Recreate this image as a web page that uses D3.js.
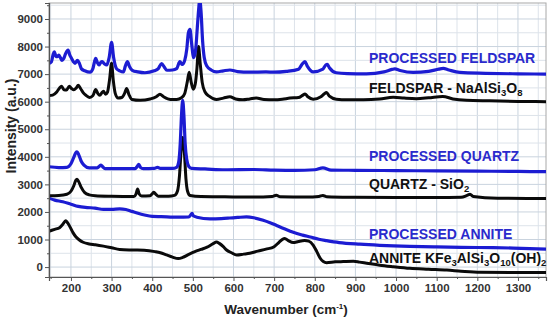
<!DOCTYPE html>
<html><head><meta charset="utf-8">
<script src="https://cdn.jsdelivr.net/npm/d3@7/dist/d3.min.js"></script>
<style>
body{margin:0;background:#fff}
text{font-family:"Liberation Sans",Arial,sans-serif;font-weight:bold}
</style>
</head><body>
<svg id="c" width="550" height="321"></svg>
<script>
// ---- tick labels ----
const xTicks = [200,300,400,500,600,700,800,900,1000,1100,1200,1300];
const yTicks = [0,1000,2000,3000,4000,5000,6000,7000,8000,9000];

// ---- FELDSPAR (black) ----
const feldsparWn = [146,155,165,172,177,183,189,196,202,207,213,218,224,230,238,246,254,261,266,271,276,280,285,290,295,300,304,309,316,325,332,337,343,350,370,395,410,419,428,445,460,472,480,486,491,496,501,506,510,514,518,523,530,540,558,575,591,605,623,640,656,675,700,720,739,760,770,776,783,796,815,823,829,836,853,880,920,960,993,1020,1050,1080,1115,1140,1173,1230,1300,1369];
const feldsparInt = [6220,6240,6350,6500,6560,6430,6420,6560,6470,6430,6500,6600,6470,6330,6220,6150,6220,6440,6300,6230,6320,6380,6270,6350,6800,7390,6800,6300,6130,6150,6300,6480,6250,6080,6050,6100,6180,6270,6180,6080,6080,6140,6300,6700,7070,6700,6450,6650,7200,8000,7400,6700,6350,6200,6080,6130,6180,6100,6070,6100,6130,6080,6070,6090,6130,6150,6230,6280,6180,6090,6180,6280,6330,6200,6090,6070,6070,6100,6160,6130,6110,6140,6190,6100,6050,6030,6010,6000];

// ---- PROCESSED FELDSPAR (blue) ----
const pFeldsparWn = [146,152,156,159,163,166,170,174,178,182,187,193,197,202,206,210,216,221,226,234,247,254,258,261,265,269,273,277,282,288,294,300,305,312,320,329,334,339,344,351,365,382,405,415,423,430,436,450,460,468,474,480,485,489,493,497,502,507,511,514,517,520,524,528,534,545,558,575,591,610,640,680,700,730,760,770,776,782,796,820,827,831,836,853,880,927,970,990,997,1010,1042,1080,1105,1116,1130,1157,1220,1300,1369];
const pFeldsparInt = [7390,7450,7700,7810,7650,7630,7690,7600,7500,7560,7750,7870,7700,7560,7450,7390,7500,7380,7190,7120,7070,7200,7450,7570,7420,7330,7420,7450,7380,7330,7600,8150,7600,7200,7120,7080,7300,7450,7280,7140,7080,7050,7120,7200,7380,7250,7140,7150,7200,7450,7350,7500,7900,8500,8620,8100,7600,7900,8700,9300,9700,9300,8200,7600,7300,7150,7080,7120,7150,7090,7070,7080,7070,7100,7180,7380,7450,7280,7080,7180,7330,7350,7230,7050,7020,7010,7080,7170,7190,7130,7060,7100,7180,7210,7150,7060,7030,7010,7000];

// ---- QUARTZ (black) ----
const quartzWn = [146,170,190,200,207,212,215,219,225,234,245,260,300,355,360,364,368,374,395,400,404,409,415,440,455,462,467,471,475,479,483,487,493,520,579,650,695,705,715,780,810,820,830,900,1000,1100,1160,1175,1182,1190,1250,1369];
const quartzInt = [2590,2600,2640,2750,2950,3150,3190,3100,2900,2700,2620,2590,2570,2560,2650,2830,2650,2580,2590,2660,2710,2640,2570,2570,2600,2750,3300,4200,4700,4200,3200,2750,2600,2560,2550,2540,2560,2610,2550,2540,2560,2600,2550,2530,2520,2520,2530,2600,2640,2560,2500,2490];

// ---- PROCESSED QUARTZ (blue) ----
const pQuartzWn = [146,170,190,200,207,212,215,219,225,232,245,265,270,274,278,284,330,358,363,367,371,378,405,413,420,450,460,465,469,472,475,478,481,485,490,497,530,579,650,700,750,800,820,840,900,1000,1100,1200,1300,1369];
const pQuartzInt = [3640,3610,3620,3750,3980,4150,4180,4080,3850,3700,3600,3600,3660,3700,3640,3570,3570,3570,3650,3730,3620,3570,3580,3620,3580,3580,3620,3800,4500,5500,6050,5500,4500,3900,3650,3580,3560,3530,3540,3520,3510,3530,3600,3520,3510,3500,3490,3480,3470,3460];

// ---- ANNITE (black) ----
const anniteWn = [146,160,172,180,187,192,198,205,212,220,230,245,260,280,300,320,350,380,407,420,435,450,464,475,490,505,520,535,550,558,565,575,583,595,608,625,640,660,680,700,712,720,726,735,747,760,775,785,796,805,813,821,829,850,870,895,910,928,960,993,1034,1080,1125,1160,1207,1280,1369];
const anniteInt = [1300,1370,1430,1550,1680,1600,1450,1250,1100,990,900,840,810,760,700,640,620,610,560,520,440,360,310,350,460,560,640,720,850,910,860,740,620,520,440,470,500,580,650,740,900,1000,1040,960,890,930,960,940,800,560,330,200,160,190,200,210,180,140,70,15,-45,-80,-110,-150,-190,-200,-200];

// ---- PROCESSED ANNITE (blue) ----
const pAnniteWn = [146,160,180,200,218,240,259,280,300,320,335,350,365,381,400,422,463,490,495,498,501,510,542,570,591,610,632,650,673,690,706,725,747,770,789,810,829,860,911,960,1034,1100,1200,1288,1369];
const pAnniteInt = [2500,2430,2370,2280,2200,2160,2140,2090,2090,2110,2090,2020,1950,1890,1840,1830,1810,1820,1900,1950,1860,1810,1750,1760,1780,1800,1820,1790,1700,1610,1510,1390,1260,1160,1090,1010,960,890,830,790,750,730,710,690,650];

// ---- labels ----
const labelTexts = [
  {parts:[["PROCESSED FELDSPAR",0]], v:7390, c:"blue"},
  {parts:[["FELDSPAR - NaAlSi",0],["3",1],["O",0],["8",1]], v:6300, c:"black"},
  {parts:[["PROCESSED QUARTZ",0]], v:3860, c:"blue"},
  {parts:[["QUARTZ - SiO",0],["2",1]], v:2830, c:"black"},
  {parts:[["PROCESSED ANNITE",0]], v:1015, c:"blue"},
  {parts:[["ANNITE KFe",0],["3",1],["AlSi",0],["3",1],["O",0],["10",1],["(OH)",0],["2",1]], v:135, c:"black"}
];

const BLUE = "#1c1cd2", BLACK = "#0a0a0a", TBLUE = "#2a2acc";
const series = [
  {wn:feldsparWn, v:feldsparInt, c:BLACK},
  {wn:quartzWn, v:quartzInt, c:BLACK},
  {wn:anniteWn, v:anniteInt, c:BLACK},
  {wn:pFeldsparWn, v:pFeldsparInt, c:BLUE},
  {wn:pQuartzWn, v:pQuartzInt, c:BLUE},
  {wn:pAnniteWn, v:pAnniteInt, c:BLUE}
];

const svg = d3.select("#c");
svg.append("rect").attr("width",550).attr("height",321).attr("fill","#fff");
const L=49,R=546,T=3,B=277;
const x = d3.scaleLinear().domain([146,1369]).range([L,R]);
const y = d3.scaleLinear().domain([-360,9580]).range([B,T]);

svg.append("defs").append("clipPath").attr("id","clip")
  .append("rect").attr("x",L).attr("y",T).attr("width",R-L).attr("height",B-T);

// grid
const g = svg.append("g");
g.selectAll("line.vx").data(d3.range(150,1369,50)).join("line")
  .attr("x1",d=>x(d)).attr("x2",d=>x(d)).attr("y1",T).attr("y2",B)
  .attr("stroke",d=>d%100===0?"#c9d3de":"#dde3ea").attr("stroke-width",1);
g.selectAll("line.hy").data(d3.range(0,9580,500)).join("line")
  .attr("y1",d=>y(d)).attr("y2",d=>y(d)).attr("x1",L).attr("x2",R)
  .attr("stroke",d=>d%1000===0?"#c9d3de":"#dde3ea").attr("stroke-width",1);

// frame
svg.append("rect").attr("x",L).attr("y",T).attr("width",R-L).attr("height",B-T)
  .attr("fill","none").attr("stroke","#a8a8a8").attr("stroke-width",1);

// series
const line = d3.line().x(d=>x(d[0])).y(d=>y(d[1])).curve(d3.curveMonotoneX);
const sg = svg.append("g").attr("clip-path","url(#clip)");
series.forEach(s=>{
  const pts = s.wn.map((w,i)=>[w,s.v[i]]);
  sg.append("path").attr("d",line(pts)).attr("fill","none")
    .attr("stroke",s.c).attr("stroke-width",s.c===BLUE?3.2:3).attr("stroke-linejoin","round");
});

// axes
const xAxis = svg.append("g").attr("transform",`translate(0,${B})`)
  .call(d3.axisBottom(x).tickValues(xTicks).tickSize(4).tickPadding(3).tickFormat(d3.format("d")));
svg.append("g").attr("transform",`translate(0,${B})`)
  .call(d3.axisBottom(x).tickValues(d3.range(150,1369,100)).tickSize(2).tickFormat(""))
  .call(a=>a.select(".domain").remove());
const yAxis = svg.append("g").attr("transform",`translate(${L},0)`)
  .call(d3.axisLeft(y).tickValues(yTicks).tickSize(4).tickPadding(2).tickFormat(d3.format("d")));
svg.append("g").attr("transform",`translate(${L},0)`)
  .call(d3.axisLeft(y).tickValues(d3.range(500,9580,1000)).tickSize(2).tickFormat(""))
  .call(a=>a.select(".domain").remove());
svg.selectAll(".domain").attr("stroke","#555").attr("stroke-width",1.2);
svg.selectAll(".tick line").attr("stroke","#555");
[xAxis,yAxis].forEach(a=>a.selectAll("text").attr("font-size","11.5px").attr("fill","#333")
  .attr("font-family","'Liberation Sans',Arial,sans-serif").attr("font-weight","bold"));

// axis titles
svg.append("text").attr("x",286).attr("y",314).attr("text-anchor","middle")
  .attr("font-size","13.5px").attr("fill","#222")
  .call(t=>{t.append("tspan").text("Wavenumber (cm");
            t.append("tspan").attr("font-size","8px").attr("dy",-5).text("-1");
            t.append("tspan").attr("dy",5).text(")");});
svg.append("text").attr("transform","translate(16,126) rotate(-90)").attr("text-anchor","middle")
  .attr("font-size","14px").attr("fill","#222").text("Intensity (a.u.)");

// series labels
labelTexts.forEach(l=>{
  const t = svg.append("text").attr("x",369).attr("y",y(l.v))
    .attr("font-size","14px").attr("fill",l.c==="blue"?TBLUE:"#111");
  let sub=false;
  l.parts.forEach(p=>{
    const sp = t.append("tspan").text(p[0]);
    if(p[1] && !sub){sp.attr("dy",3).attr("font-size","9.5px");sub=true;}
    else if(p[1] && sub){sp.attr("font-size","9.5px");}
    else if(!p[1] && sub){sp.attr("dy",-3);sub=false;}
  });
});
</script>
</body></html>
